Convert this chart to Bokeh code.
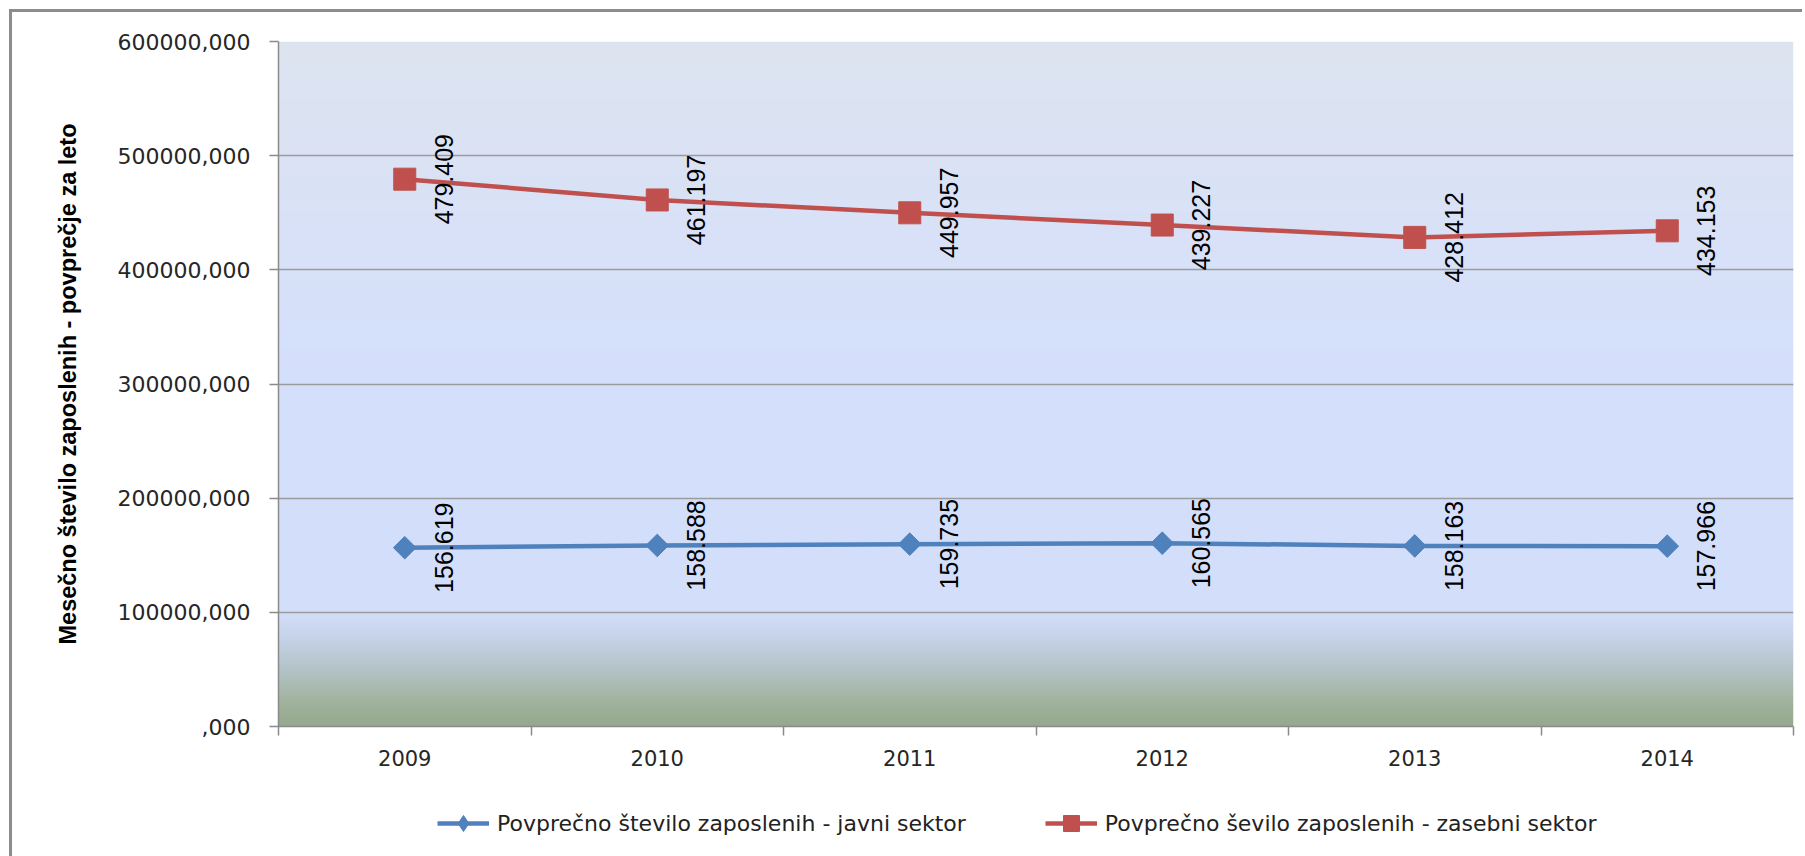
import numpy as np
from bokeh.plotting import figure
from bokeh.models import Range1d, FixedTicker, Legend, LegendItem, Column
from bokeh.core.properties import value
from bokeh.embed import file_html
from bokeh.resources import INLINE

# ---- data ----
years = ["2009", "2010", "2011", "2012", "2013", "2014"]
javni = [156619, 158588, 159735, 160565, 158163, 157966]
zasebni = [479409, 461197, 449957, 439227, 428412, 434153]
javni_labels = ["156.619", "158.588", "159.735", "160.565", "158.163", "157.966"]
zasebni_labels = ["479.409", "461.197", "449.957", "439.227", "428.412", "434.153"]
y_ticks = [0, 100000, 200000, 300000, 400000, 500000, 600000]
y_tick_labels = [",000", "100000,000", "200000,000", "300000,000",
                 "400000,000", "500000,000", "600000,000"]
name_javni = "Povprečno število zaposlenih - javni sektor"
name_zasebni = "Povprečno ševilo zaposlenih - zasebni sektor"
y_title = "Mesečno število zaposlenih - povprečje za leto"

BLUE = "#4F81BD"
RED = "#C0504D"
GRID = "#9b9b9b"
AXIS = "#8a8a8a"

n = len(years)
xs = np.arange(n) + 0.5

p = figure(width=1790, height=774,
           x_range=Range1d(0, n), y_range=Range1d(y_ticks[0], y_ticks[-1]),
           output_backend="svg", toolbar_location=None,
           min_border_left=266, min_border_right=9,
           min_border_top=29, min_border_bottom=60)
p.border_fill_color = "white"
p.background_fill_color = None
p.outline_line_color = None

# background gradient of the plot area
stops_v = [0, 20000, 50000, 80000, 100000, 300000, 600000]
stops_c = [(148, 169, 142), (160, 178, 155), (180, 195, 200), (200, 212, 235),
           (211, 222, 250), (212, 223, 252), (221, 228, 240)]
N = 600
vv = np.linspace(y_ticks[0], y_ticks[-1], N)
img = np.zeros((N, 2), dtype=np.uint32)
view = img.view(dtype=np.uint8).reshape((N, 2, 4))
for k in range(3):
    ch = np.interp(vv, stops_v, [c[k] for c in stops_c])
    view[:, :, k] = np.round(ch)[:, None].astype(np.uint8)
view[:, :, 3] = 255
p.image_rgba(image=[img], x=0, y=y_ticks[0], dw=n, dh=y_ticks[-1] - y_ticks[0], level="image")

# grid
p.xgrid.visible = False
p.ygrid.ticker = FixedTicker(ticks=y_ticks)
p.ygrid.grid_line_color = GRID
p.ygrid.grid_line_width = 1.5

# y axis
p.yaxis.ticker = FixedTicker(ticks=y_ticks)
p.yaxis.major_label_overrides = {t: l for t, l in zip(y_ticks, y_tick_labels)}
p.yaxis.axis_line_color = AXIS
p.yaxis.axis_line_width = 1.5
p.yaxis.major_tick_line_color = AXIS
p.yaxis.major_tick_line_width = 1.5
p.yaxis.major_tick_out = 9
p.yaxis.major_tick_in = 0
p.yaxis.minor_tick_line_color = None
p.yaxis.major_label_standoff = 19
p.yaxis.major_label_text_font = "DejaVu Sans"
p.yaxis.major_label_text_font_size = "22px"
p.yaxis.major_label_text_color = "#262626"
p.yaxis.axis_label = y_title
p.yaxis.axis_label_text_font = "Liberation Sans"
p.yaxis.axis_label_text_font_style = "bold"
p.yaxis.axis_label_text_font_size = "23.5px"
p.yaxis.axis_label_text_color = "black"
p.yaxis.axis_label_standoff = 34

# x axis: labels at category centres, ticks at category borders
p.xaxis.ticker = FixedTicker(ticks=list(xs), minor_ticks=list(range(n + 1)))
p.xaxis.major_label_overrides = {float(x): y for x, y in zip(xs, years)}
p.xaxis.axis_line_color = AXIS
p.xaxis.axis_line_width = 1.5
p.xaxis.major_tick_line_color = None
p.xaxis.major_tick_out = 0
p.xaxis.major_tick_in = 0
p.xaxis.minor_tick_line_color = AXIS
p.xaxis.minor_tick_line_width = 1.5
p.xaxis.minor_tick_out = 9
p.xaxis.minor_tick_in = 0
p.xaxis.major_label_standoff = 14
p.xaxis.major_label_text_font = "DejaVu Sans"
p.xaxis.major_label_text_font_size = "21px"
p.xaxis.major_label_text_color = "#262626"

# series
p.line(xs, javni, line_color=BLUE, line_width=4.5)
p.scatter(xs, javni, marker="square", angle=np.pi / 4, size=16,
          fill_color=BLUE, line_color=BLUE)
p.line(xs, zasebni, line_color=RED, line_width=4.5)
p.scatter(xs, zasebni, marker="square", size=22,
          fill_color=RED, line_color=RED)

for vals, labs in ((javni, javni_labels), (zasebni, zasebni_labels)):
    p.text(xs, vals, text=labs, angle=np.pi / 2, x_offset=39,
           text_align="center", text_baseline="middle",
           text_font=value("Liberation Sans"), text_font_size="25px",
           text_color="black")

# legend strip below the chart (its keys use the same series, which fall
# outside this strip's ranges, so only the legend is seen)
q = figure(width=1790, height=70, x_range=Range1d(0, 1), y_range=Range1d(0, 1),
           x_axis_type=None, y_axis_type=None,
           output_backend="svg", toolbar_location=None,
           min_border_left=0, min_border_right=0, min_border_top=0, min_border_bottom=0)
q.grid.visible = False
q.outline_line_color = None
q.background_fill_color = "white"
q.border_fill_color = "white"
k1 = q.line(xs, javni, line_color=BLUE, line_width=4.5)
d1 = q.scatter(xs, javni, marker="diamond", fill_color=BLUE, line_color=BLUE)
k2 = q.line(xs, zasebni, line_color=RED, line_width=4.5)
d2 = q.scatter(xs, zasebni, marker="square", fill_color=RED, line_color=RED)

legend = Legend(items=[LegendItem(label=name_javni, renderers=[k1, d1]),
                       LegendItem(label=name_zasebni, renderers=[k2, d2])],
                orientation="horizontal", location=(159, 13),
                padding=0, margin=0, spacing=79,
                glyph_width=52, glyph_height=40, label_standoff=8,
                border_line_color=None, background_fill_alpha=0,
                label_text_font="DejaVu Sans", label_text_font_size="22px",
                label_text_color="#222222")
q.add_layout(legend, "center")

layout = Column(p, q, spacing=0,
                styles={"margin-left": "9px", "margin-top": "9px",
                        "border-left": "3px solid #8c8c8c",
                        "border-top": "3px solid #8c8c8c"})

open("out.html", "w").write(file_html(layout, INLINE))
